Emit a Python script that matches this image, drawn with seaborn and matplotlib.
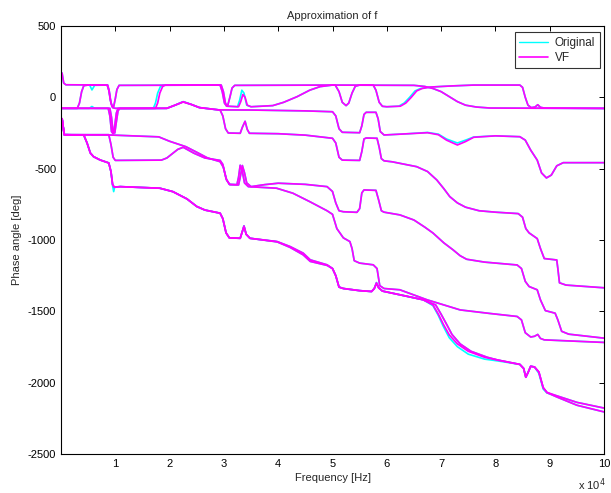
import numpy as np
import pandas as pd
import matplotlib
matplotlib.use("Agg")
import matplotlib.pyplot as plt
import seaborn as sns
from matplotlib.lines import Line2D
from matplotlib.ticker import FixedLocator, FuncFormatter

# ---------------- data (frequency in units of 1e4 Hz, phase in degrees) ----------------
c1_vf = np.array([
    (0.02, 170), (0.05, 100), (0.09, 88), (0.85, 86), (0.88, 50), (0.91, -20), (0.94, -62),
    (0.97, -65), (1.0, -10), (1.03, 55), (1.07, 84), (2.95, 86), (2.99, 40), (3.03, -45),
    (3.07, -58), (3.11, 0), (3.15, 65), (3.2, 84), (5.05, 86), (5.12, 40), (5.18, -35),
    (5.25, -58), (5.3, -40), (5.36, 30), (5.42, 78), (5.5, 86), (5.75, 86), (5.8, 50),
    (5.86, -35), (5.92, -63), (6.0, -66), (6.25, -62), (6.35, -40), (6.45, 0), (6.55, 45),
    (6.65, 62), (6.8, 72), (7.2, 80), (7.6, 86), (8.45, 86), (8.5, 70), (8.55, 0),
    (8.6, -55), (8.66, -72), (8.73, -68), (8.78, -52), (8.83, -70), (8.9, -75), (10.0, -77)])
c1_orig = np.array([
    (0.02, 170), (0.05, 100), (0.09, 88), (0.85, 86), (0.88, 50), (0.91, -20), (0.94, -62),
    (0.97, -65), (1.0, -10), (1.03, 55), (1.07, 84), (2.95, 86), (2.99, 40), (3.03, -45),
    (3.07, -58), (3.11, 0), (3.15, 65), (3.2, 84), (5.05, 86), (5.12, 40), (5.18, -35),
    (5.25, -58), (5.3, -40), (5.36, 30), (5.42, 78), (5.5, 86), (5.75, 86), (5.8, 50),
    (5.86, -35), (5.92, -63), (6.0, -66), (6.22, -62), (6.32, -40), (6.42, 0), (6.52, 45),
    (6.62, 62), (6.8, 72), (7.2, 80), (7.6, 86), (8.45, 86), (8.5, 70), (8.55, 0),
    (8.6, -55), (8.66, -72), (8.73, -68), (8.78, -52), (8.83, -70), (8.9, -75), (10.0, -77)])

c2_vf = np.array([
    (0.02, -77), (0.3, -77), (0.34, -40), (0.38, 40), (0.42, 82), (0.5, 86), (0.86, 86),
    (0.89, 40), (0.92, -40), (0.95, -72), (1.0, -77), (1.74, -77), (1.78, -40), (1.82, 30),
    (1.87, 75), (1.92, 86), (2.93, 86), (2.97, 40), (3.01, -40), (3.05, -62), (3.27, -66),
    (3.31, -30), (3.35, 20), (3.39, 0), (3.43, -55), (3.5, -66), (3.9, -58), (4.1, -35),
    (4.35, 5), (4.58, 50), (4.77, 75), (5.0, 86), (6.5, 84), (6.7, 76), (6.85, 62),
    (7.0, 40), (7.15, 5), (7.3, -30), (7.45, -55), (7.65, -68), (7.9, -75), (10.0, -78)])
c2_orig = np.array([
    (0.02, -77), (0.3, -77), (0.34, -40), (0.38, 40), (0.42, 82), (0.5, 86), (0.53, 84),
    (0.57, 52), (0.62, 84), (0.86, 86), (0.89, 40), (0.92, -40), (0.95, -72), (1.0, -77),
    (1.7, -77), (1.74, -40), (1.78, 30), (1.83, 75), (1.88, 86), (2.93, 86), (2.97, 40),
    (3.01, -40), (3.05, -62), (3.25, -66), (3.29, -20), (3.33, 50), (3.37, 30), (3.42, -55),
    (3.5, -66), (3.9, -58), (4.1, -35), (4.35, 5), (4.58, 50), (4.77, 75), (5.0, 86),
    (6.5, 84), (6.7, 76), (6.85, 62), (7.0, 40), (7.15, 5), (7.3, -30), (7.45, -55),
    (7.65, -68), (7.9, -75), (10.0, -78)])

c3_vf = np.array([
    (0.02, -77), (0.87, -77), (0.9, -130), (0.93, -240), (0.96, -255), (0.99, -200),
    (1.02, -110), (1.05, -78), (1.95, -77), (2.1, -55), (2.25, -33), (2.4, -50), (2.55, -72),
    (2.9, -88), (3.5, -89), (4.5, -95), (5.0, -101), (5.06, -130), (5.12, -220), (5.18, -245),
    (5.5, -248), (5.54, -200), (5.58, -120), (5.62, -105), (5.8, -105), (5.84, -150),
    (5.88, -240), (5.95, -264), (6.4, -255), (6.75, -248), (6.95, -262), (7.1, -300),
    (7.3, -334), (7.45, -310), (7.6, -280), (8.0, -270), (8.45, -276), (8.55, -300),
    (8.65, -370), (8.77, -440), (8.85, -530), (8.94, -565), (9.03, -545), (9.13, -480),
    (9.25, -458), (10.0, -458)])
c3_orig = np.array([
    (0.02, -77), (0.52, -77), (0.57, -64), (0.62, -77), (0.87, -77), (0.9, -130),
    (0.93, -240), (0.96, -255), (0.99, -200), (1.02, -110), (1.05, -78), (1.95, -77),
    (2.1, -55), (2.25, -30), (2.4, -50), (2.55, -72), (2.9, -88), (3.5, -89), (4.5, -95),
    (5.0, -101), (5.06, -130), (5.12, -220), (5.18, -245), (5.5, -248), (5.54, -200),
    (5.58, -120), (5.62, -105), (5.8, -105), (5.84, -150), (5.88, -240), (5.95, -264),
    (6.4, -255), (6.75, -246), (6.95, -258), (7.1, -292), (7.3, -320), (7.45, -300),
    (7.6, -278), (8.0, -270), (8.45, -276), (8.55, -300), (8.65, -370), (8.77, -440),
    (8.85, -530), (8.94, -565), (9.03, -545), (9.13, -480), (9.25, -458), (10.0, -458)])

c4_vf = np.array([
    (0.02, -77), (0.9, -77), (0.93, -140), (0.96, -245), (0.99, -250), (1.02, -170),
    (1.05, -95), (1.08, -78), (1.95, -77), (2.1, -55), (2.25, -31), (2.4, -50), (2.55, -72),
    (2.93, -89), (2.98, -130), (3.03, -220), (3.08, -250), (3.3, -252), (3.34, -210),
    (3.39, -168), (3.43, -225), (3.47, -252), (4.0, -255), (4.5, -265), (5.0, -287),
    (5.06, -320), (5.12, -420), (5.18, -440), (5.5, -442), (5.54, -380), (5.58, -292),
    (5.62, -285), (5.82, -287), (5.86, -350), (5.9, -430), (5.95, -445), (6.1, -452),
    (6.55, -486), (6.75, -520), (6.92, -579), (7.05, -640), (7.16, -696), (7.3, -740),
    (7.45, -770), (7.7, -795), (8.0, -805), (8.42, -815), (8.5, -840), (8.56, -920),
    (8.62, -950), (8.77, -990), (8.83, -1060), (8.9, -1130), (9.13, -1140), (9.15, -1200),
    (9.18, -1300), (9.3, -1316), (10.0, -1335)])
c4_orig = c4_vf

c5a_vf = np.array([
    (0.02, -150), (0.06, -262), (0.9, -264), (1.8, -277), (2.0, -308), (2.3, -346),
    (2.5, -385), (2.7, -425), (2.93, -451), (2.99, -490), (3.05, -580), (3.11, -612),
    (3.27, -614), (3.3, -560), (3.34, -478), (3.38, -530), (3.42, -600), (3.5, -626),
    (3.75, -612), (4.0, -602), (4.5, -610), (4.9, -626), (5.0, -660), (5.06, -740),
    (5.12, -795), (5.2, -802), (5.45, -806), (5.5, -780), (5.54, -670), (5.58, -649),
    (5.8, -652), (5.85, -720), (5.9, -795), (5.95, -805), (6.24, -824), (6.5, -860),
    (6.7, -910), (6.85, -951), (7.05, -1020), (7.22, -1069), (7.35, -1110), (7.47, -1135),
    (7.8, -1155), (8.4, -1175), (8.48, -1200), (8.55, -1290), (8.62, -1326), (8.77, -1349),
    (8.83, -1420), (8.92, -1495), (9.1, -1513), (9.15, -1560), (9.22, -1640), (9.35, -1660),
    (10.0, -1688)])
c5a_orig = c5a_vf

c5b_vf = np.array([
    (0.02, -150), (0.06, -262), (0.88, -262), (0.92, -330), (0.96, -420), (1.0, -442),
    (1.85, -440), (1.95, -425), (2.05, -395), (2.15, -365), (2.25, -350), (2.45, -392),
    (2.65, -425), (2.93, -442), (2.98, -470), (3.04, -570), (3.1, -610), (3.24, -612),
    (3.27, -560), (3.3, -476), (3.34, -520), (3.38, -600), (3.45, -626), (3.97, -637),
    (4.27, -672), (4.58, -731), (4.9, -795), (5.0, -820), (5.08, -920), (5.2, -985),
    (5.32, -1011), (5.36, -1060), (5.4, -1145), (5.5, -1162), (5.75, -1174), (5.82, -1200),
    (5.87, -1320), (5.95, -1340), (6.24, -1349), (6.74, -1419), (7.35, -1490), (7.9, -1515),
    (8.4, -1536), (8.48, -1560), (8.55, -1650), (8.65, -1680), (8.72, -1675), (8.78, -1662),
    (8.83, -1690), (8.9, -1700), (10.0, -1718)])
c5b_orig = c5b_vf

c6a_vf = np.array([
    (0.02, -150), (0.06, -262), (0.42, -265), (0.48, -320), (0.54, -390), (0.6, -416),
    (0.72, -439), (0.88, -460), (0.92, -520), (0.95, -610), (0.98, -630), (1.09, -626),
    (1.82, -637), (2.06, -661), (2.32, -712), (2.5, -765), (2.65, -790), (2.93, -812),
    (2.98, -850), (3.04, -950), (3.1, -985), (3.3, -988), (3.34, -940), (3.37, -903),
    (3.41, -960), (3.48, -988), (3.98, -1011), (4.22, -1046), (4.46, -1092), (4.59, -1139),
    (4.9, -1174), (5.0, -1200), (5.06, -1250), (5.12, -1330), (5.2, -1340), (5.5, -1355),
    (5.72, -1361), (5.77, -1340), (5.81, -1302), (5.85, -1335), (5.92, -1358), (6.24, -1384),
    (6.67, -1419), (6.85, -1455), (6.95, -1520), (7.04, -1590), (7.15, -1665), (7.3, -1728),
    (7.5, -1780), (7.8, -1822), (8.05, -1842), (8.45, -1872), (8.52, -1900), (8.56, -1962),
    (8.6, -1930), (8.65, -1885), (8.72, -1890), (8.8, -1925), (8.88, -2035), (8.95, -2068),
    (9.13, -2092), (9.5, -2138), (10.0, -2178)])
c6a_orig = np.array([
    (0.02, -150), (0.06, -262), (0.42, -265), (0.48, -320), (0.54, -390), (0.6, -416),
    (0.72, -439), (0.88, -460), (0.92, -520), (0.95, -620), (0.97, -661), (0.99, -628),
    (1.09, -626), (1.82, -637), (2.06, -661), (2.32, -712), (2.5, -765), (2.65, -790),
    (2.93, -812), (2.98, -850), (3.04, -950), (3.1, -985), (3.3, -988), (3.34, -940),
    (3.37, -900), (3.41, -960), (3.48, -988), (3.98, -1011), (4.22, -1046), (4.46, -1092),
    (4.59, -1139), (4.9, -1174), (5.0, -1200), (5.06, -1250), (5.12, -1330), (5.2, -1340),
    (5.5, -1355), (5.72, -1361), (5.77, -1340), (5.81, -1298), (5.85, -1335), (5.92, -1358),
    (6.24, -1384), (6.67, -1419), (6.85, -1460), (6.95, -1530), (7.04, -1605), (7.15, -1685),
    (7.3, -1748), (7.5, -1800), (7.8, -1835), (8.05, -1848), (8.45, -1872), (8.52, -1900),
    (8.56, -1962), (8.6, -1930), (8.65, -1885), (8.72, -1890), (8.8, -1935), (8.88, -2045),
    (8.95, -2072), (9.13, -2092), (9.5, -2138), (10.0, -2178)])

c6b_vf = np.array([
    (0.02, -150), (0.06, -262), (0.42, -265), (0.48, -320), (0.54, -390), (0.6, -416),
    (0.72, -439), (0.88, -460), (0.92, -520), (0.95, -610), (0.98, -630), (1.09, -626),
    (1.82, -637), (2.06, -661), (2.32, -712), (2.5, -765), (2.65, -790), (2.93, -812),
    (2.98, -850), (3.04, -950), (3.1, -985), (3.3, -988), (3.34, -940), (3.37, -903),
    (3.41, -960), (3.48, -988), (3.98, -1013), (4.22, -1052), (4.46, -1104), (4.59, -1150),
    (4.9, -1178), (5.0, -1200), (5.06, -1250), (5.12, -1330), (5.2, -1340), (5.5, -1355),
    (5.72, -1361), (5.77, -1340), (5.81, -1302), (5.85, -1335), (5.92, -1358), (6.24, -1384),
    (6.67, -1419), (6.9, -1455), (7.0, -1520), (7.1, -1590), (7.2, -1662), (7.35, -1728),
    (7.55, -1780), (7.85, -1822), (8.05, -1842), (8.45, -1872), (8.52, -1900), (8.56, -1962),
    (8.6, -1930), (8.65, -1885), (8.72, -1890), (8.8, -1925), (8.88, -2035), (8.95, -2070),
    (9.13, -2100), (9.5, -2158), (10.0, -2205)])
c6b_orig = c6b_vf

curve_names = ["c1", "c2", "c3", "c4", "c5a", "c5b", "c6a", "c6b"]
orig_series = [c1_orig, c2_orig, c3_orig, c4_orig, c5a_orig, c5b_orig, c6a_orig, c6b_orig]
vf_series = [c1_vf, c2_vf, c3_vf, c4_vf, c5a_vf, c5b_vf, c6a_vf, c6b_vf]

x_ticks = [1, 2, 3, 4, 5, 6, 7, 8, 9, 10]
y_ticks = [-2500, -2000, -1500, -1000, -500, 0, 500]

# ---------------- build long table ----------------
rows = []
for kind, series in (("Original", orig_series), ("VF", vf_series)):
    for name, arr in zip(curve_names, series):
        for k, (f, p) in enumerate(arr):
            rows.append((f"{kind}_{name}", kind, k, f * 1e4, p))
df = pd.DataFrame(rows, columns=["curve", "kind", "order", "freq", "phase"])

# ---------------- figure ----------------
sns.set_theme(style="white")
plt.rcParams["font.family"] = ["Liberation Sans", "DejaVu Sans"]
plt.rcParams["axes.unicode_minus"] = False

W, H = 611, 493
fig = plt.figure(figsize=(W / 100, H / 100), dpi=100)
ax = fig.add_axes([61 / W, 1 - 454 / H, 543 / W, 428 / H])

palette = {"Original": "#00ffff", "VF": "#ff00ff"}
sns.lineplot(data=df[df["kind"] == "Original"], x="freq", y="phase", units="curve",
             estimator=None, sort=False, color=palette["Original"],
             legend=False, linewidth=1.2, ax=ax)
sns.lineplot(data=df[df["kind"] == "VF"], x="freq", y="phase", units="curve",
             estimator=None, sort=False, color=palette["VF"],
             legend=False, linewidth=1.25, ax=ax)

ax.set_xlim(0, 1e5)
ax.set_ylim(-2500, 500)
ax.xaxis.set_major_locator(FixedLocator([t * 1e4 for t in x_ticks]))
ax.xaxis.set_major_formatter(FuncFormatter(lambda v, pos: f"{v / 1e4:g}"))
ax.set_yticks(y_ticks)

for s in ax.spines.values():
    s.set_color("black")
    s.set_linewidth(0.8)
ax.tick_params(direction="in", length=3.6, width=0.7, top=True, right=True,
               labelsize=8, colors="black", pad=3.5)

ax.set_xlabel("Frequency [Hz]", fontsize=8, labelpad=3)
ax.set_ylabel("Phase angle [deg]", fontsize=8, labelpad=4)
ax.set_title("Approximation of f", fontsize=8, pad=5)

fig.text(578 / W, 1 - 490 / H, r"x 10$^{4}$", fontsize=8, ha="left", va="baseline")

handles = [Line2D([], [], color=palette["Original"], lw=1.0),
           Line2D([], [], color=palette["VF"], lw=1.2)]
leg = ax.legend(handles, ["Original", "VF"], loc="upper right",
                bbox_to_anchor=((600 - 61) / 543, (454 - 32) / 428),
                borderaxespad=0, fontsize=8.5, frameon=True, fancybox=False,
                handlelength=2.4, handletextpad=0.6, labelspacing=0.25,
                borderpad=0.4)
leg.get_frame().set_edgecolor("black")
leg.get_frame().set_linewidth(0.8)

fig.savefig("out.png", dpi=100)
